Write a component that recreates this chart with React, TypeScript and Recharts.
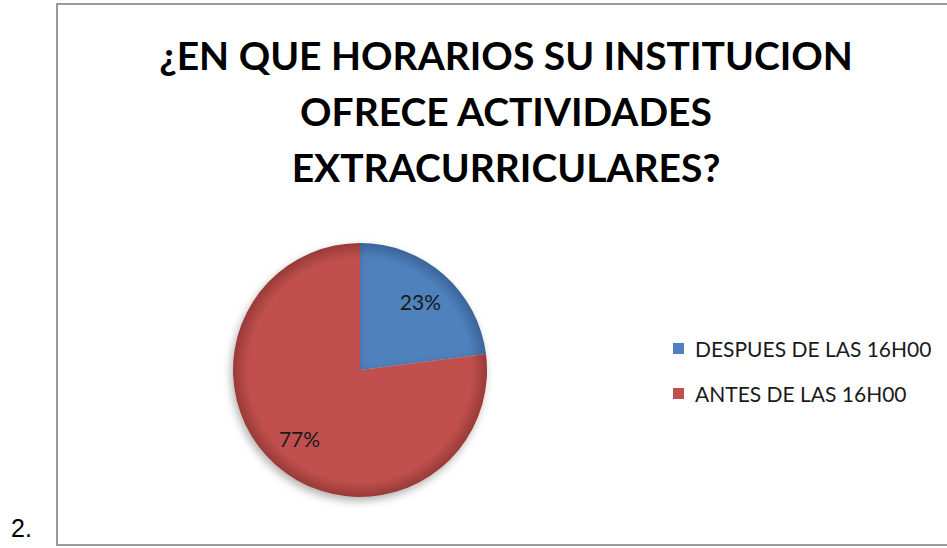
import React from 'react'
import { PieChart, Pie, Cell, Legend } from 'recharts'

const categories = ['DESPUES DE LAS 16H00', 'ANTES DE LAS 16H00']
const percentages = [23, 77]
const colors = ['#4F81BD', '#C0504D']
const edgeColors = ['#3a6499', '#983a37']
const titleLines = ['¿EN QUE HORARIOS SU INSTITUCION', 'OFRECE ACTIVIDADES', 'EXTRACURRICULARES?']

const data = categories.map((name, i) => ({ name, value: percentages[i] }))

const RADIAN = Math.PI / 180
const CX = 360
const CY = 370
const R = 127

// percentage inside each slice, like the excel default
const renderLabel = (props: any) => {
  const { cx, cy, midAngle, outerRadius, value } = props
  const r = outerRadius * 0.72
  const x = cx + r * Math.cos(-midAngle * RADIAN)
  const y = cy + r * Math.sin(-midAngle * RADIAN)
  return (
    <text
      x={x}
      y={y}
      textAnchor="middle"
      dominantBaseline="central"
      fill="#1a1a1a"
      fontFamily="Lato, 'Open Sans', sans-serif"
      fontSize={21}
    >
      {`${value}%`}
    </text>
  )
}

// legend keeps the category order, squares use the plain slice colours
const renderLegend = (props: any) => {
  const payload = [...(props.payload || [])].sort(
    (a: any, b: any) => categories.indexOf(a.value) - categories.indexOf(b.value)
  )
  return (
    <ul style={{ listStyle: 'none', margin: 0, padding: 0 }}>
      {payload.map((entry: any, i: number) => (
        <li
          key={i}
          style={{
            height: 45,
            display: 'flex',
            alignItems: 'center',
            fontFamily: "Lato, 'Open Sans', sans-serif",
            fontSize: 21,
            color: '#1a1a1a',
            whiteSpace: 'nowrap',
          }}
        >
          <span
            style={{
              display: 'inline-block',
              width: 11,
              height: 11,
              background: colors[categories.indexOf(entry.value)],
              marginRight: 11,
            }}
          />
          {entry.value}
        </li>
      ))}
    </ul>
  )
}

export default function App() {
  return (
    <div style={{ position: 'fixed', left: 0, top: 0, width: 947, height: 548, background: '#fff', overflow: 'hidden' }}>
      <svg width={0} height={0} style={{ position: 'absolute' }}>
        <defs>
          {colors.map((c, i) => (
            <radialGradient key={c} id={`shade${i}`} gradientUnits="userSpaceOnUse" cx={CX} cy={CY} r={R}>
              <stop offset="0%" stopColor={c} />
              <stop offset="88%" stopColor={c} />
              <stop offset="100%" stopColor={edgeColors[i]} />
            </radialGradient>
          ))}
          <filter id="pieShadow" x="-20%" y="-20%" width="140%" height="140%">
            <feDropShadow dx={-2} dy={4} stdDeviation={4} floodColor="#000" floodOpacity={0.3} />
          </filter>
        </defs>
      </svg>
      <div style={{ position: 'absolute', left: 11, top: 514, fontFamily: "'Liberation Sans', Arial, sans-serif", fontSize: 25, color: '#000' }}>
        2.
      </div>
      <div
        style={{
          position: 'absolute',
          left: 56,
          top: 3,
          width: 960,
          height: 539,
          border: '2px solid #9a9a9a',
        }}
      />
      <div
        style={{
          position: 'absolute',
          left: 58,
          top: 27,
          width: 896,
          textAlign: 'center',
          fontFamily: "Lato, 'Open Sans', sans-serif",
          fontWeight: 700,
          fontSize: 39,
          lineHeight: '56px',
          color: '#000',
        }}
      >
        {titleLines.map((t, i) => (
          <div key={i}>{t}</div>
        ))}
      </div>
      <div style={{ position: 'absolute', left: 0, top: 0 }}>
        <PieChart width={947} height={548} margin={{ top: 0, right: 0, bottom: 0, left: 0 }}>
          <Pie
            data={data}
            dataKey="value"
            nameKey="name"
            cx={CX}
            cy={CY}
            outerRadius={R}
            startAngle={90}
            endAngle={-270}
            stroke="none"
            label={renderLabel}
            labelLine={false}
            isAnimationActive={false}
          >
            {data.map((d, i) => (
              <Cell key={d.name} fill={`url(#shade${i})`} filter="url(#pieShadow)" />
            ))}
          </Pie>
          <Legend
            layout="vertical"
            content={renderLegend}
            wrapperStyle={{ position: 'absolute', left: 673, top: 326, width: 270 }}
          />
        </PieChart>
      </div>
    </div>
  )
}
